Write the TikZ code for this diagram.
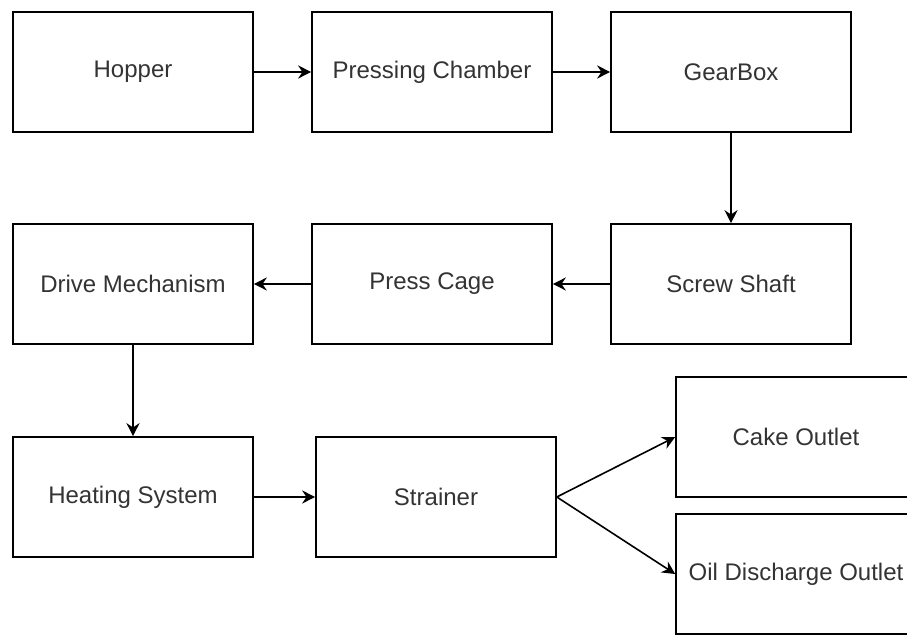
\documentclass[tikz,border=0pt]{standalone}
\usepackage{fontspec}
\setmainfont{Liberation Sans}
\usetikzlibrary{arrows.meta}

\begin{document}
\begin{tikzpicture}[x=1pt,y=1pt,
    block/.style={draw, line width=1.6pt, minimum width=240pt, minimum height=120pt,
        inner sep=0pt, font=\fontsize{24}{28}\selectfont, text=black!80},
    flow/.style={line width=1.6pt, -{Stealth[length=13pt,width=13pt]}}]

    \clip (0,0) rectangle (907,635);

    \node[block] (hopper) at (133,563) {Hopper};
    \node[block] (chamber) at (432,563) {Pressing Chamber};
    \node[block] (gearbox) at (731,563) {GearBox};

    \node[block] (shaft) at (731,351) {Screw Shaft};
    \node[block] (cage) at (432,351) {Press Cage};
    \node[block] (drive) at (133,351) {Drive Mechanism};

    \node[block] (heating) at (133,138) {Heating System};
    \node[block] (strainer) at (436,138) {Strainer};
    \node[block] (cake) at (796,198) {Cake Outlet};
    \node[block] (oil) at (796,61) {Oil Discharge Outlet};

    \draw[flow] (hopper) -- (chamber);
    \draw[flow] (chamber) -- (gearbox);
    \draw[flow] (gearbox) -- (shaft);
    \draw[flow] (shaft) -- (cage);
    \draw[flow] (cage) -- (drive);
    \draw[flow] (drive) -- (heating);
    \draw[flow] (heating) -- (strainer);
    \draw[flow] (strainer.east) -- (cake.west);
    \draw[flow] (strainer.east) -- (oil.west);
\end{tikzpicture}
\end{document}
